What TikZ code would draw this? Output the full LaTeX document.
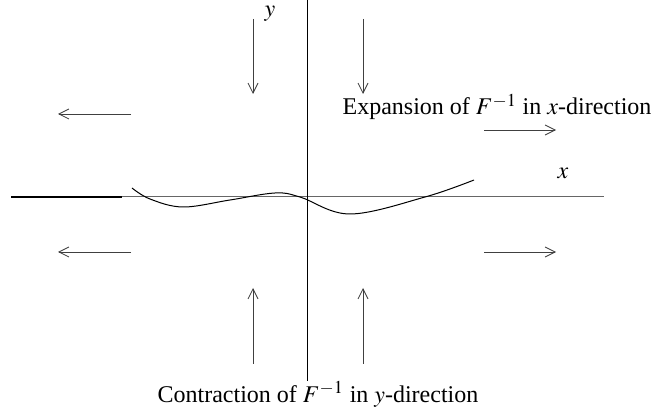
\documentclass[tikz,border=0pt]{standalone}
\usepackage{mathptmx}
\usepackage{fontspec}
\setmainfont{Liberation Serif}
\usetikzlibrary{arrows.meta}

\tikzset{
  flowarrow/.style={-{Straight Barb[length=6pt,width=6pt]},line width=0.5pt,black!75},
  axisline/.style={line width=0.6pt,black!60},
}

\begin{document}
\begin{tikzpicture}[x=0.6pt,y=-0.6pt,font=\Large]
  \useasboundingbox (0,0) rectangle (671,410);
  % axes
  \draw[axisline] (122,197) -- (604,197);
  \draw[line width=1.2pt] (11,197) -- (122,197);
  \draw[line width=0.6pt] (307,0) -- (307,381);
  \node (ylab) at (270,14) {$y$};
  \node (xlab) at (563,173) {$x$};
  % curve
  \draw[line width=0.6pt] plot[smooth,tension=0.6] coordinates
    {(132,188) (150,199) (183,207) (230,200) (275,193) (300,197)
     (350,214) (425,197) (474,180)};
  % horizontal arrows
  \foreach \y in {114,252}{
    \draw[flowarrow] (131,\y) -- (58,\y);
  }
  \foreach \y in {130,252}{
    \draw[flowarrow] (484,\y) -- (556,\y);
  }
  % vertical arrows
  \foreach \x in {253,363}{
    \draw[flowarrow] (\x,19) -- (\x,94);
    \draw[flowarrow] (\x,364) -- (\x,288);
  }
  % labels
  \node (expand) at (497,107) {Expansion of $F^{-1}$ in $x$-direction};
  \node (contract) at (318,394) {Contraction of $F^{-1}$ in $y$-direction};
\end{tikzpicture}
\end{document}
